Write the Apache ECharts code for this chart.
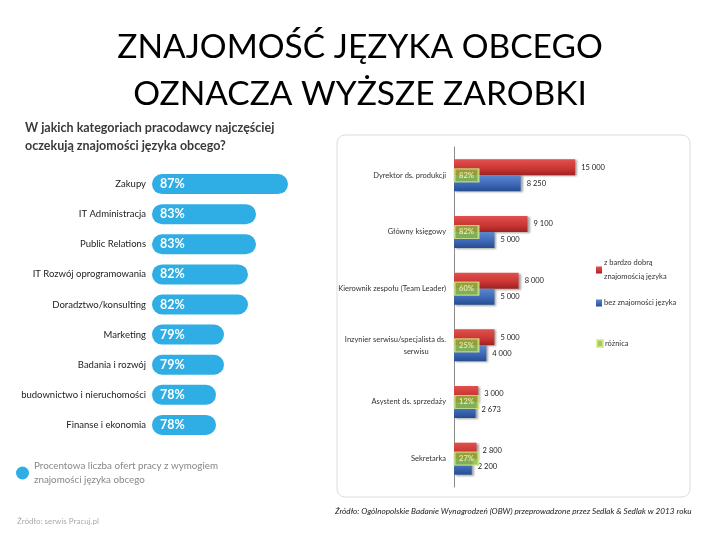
<!DOCTYPE html>
<html>
<head>
<meta charset="utf-8">
<script src="https://cdn.jsdelivr.net/npm/echarts@6/dist/echarts.min.js"></script>
<style>
  html, body { margin: 0; padding: 0; background: #fff; }
  #chart { width: 720px; height: 540px; }
</style>
</head>
<body>
<div id="chart"></div>
<script>
// left panel: share of job offers requiring a foreign language
const categories = ['Zakupy', 'IT Administracja', 'Public Relations', 'IT Rozwój oprogramowania',
  'Doradztwo/konsulting', 'Marketing', 'Badania i rozwój', 'budownictwo i nieruchomości', 'Finanse i ekonomia'];
const shareValues = [87, 83, 83, 82, 82, 79, 79, 78, 78];

// right panel: salaries with / without language skills
const jobs = ['Dyrektor ds. produkcji', 'Główny księgowy', 'Kierownik zespołu (Team Leader)',
  'Inzynier serwisu/specjalista ds.\nserwisu         ', 'Asystent ds. sprzedaży', 'Sekretarka'];
const withLang = [15000, 9100, 8000, 5000, 3000, 2800];
const withoutLang = [8250, 5000, 5000, 4000, 2673, 2200];
const diffPct = [82, 82, 60, 25, 12, 27];

const FONT = 'Lato, "Open Sans", sans-serif';
const fmt = v => String(v).replace(/\B(?=(\d{3})+(?!\d))/g, ' ');

const chart = echarts.init(document.getElementById('chart'));

chart.setOption({
  animation: false,
  textStyle: { fontFamily: FONT },
  title: [
    {
      text: 'ZNAJOMOŚĆ JĘZYKA OBCEGO\nOZNACZA WYŻSZE ZAROBKI',
      left: 'center', top: 24, padding: 0,
      textStyle: { fontSize: 33.5, fontWeight: 'normal', color: '#000', lineHeight: 47, fontFamily: FONT }
    },
    {
      text: 'W jakich kategoriach pracodawcy najczęściej\noczekują znajomości języka obcego?',
      left: 25, top: 119, padding: 0,
      textStyle: { fontSize: 12.5, fontWeight: 'bold', color: '#3a3a3a', lineHeight: 18, fontFamily: FONT }
    },
    {
      text: 'Źródło: serwis Pracuj.pl',
      left: 17, top: 517, padding: 0,
      textStyle: { fontSize: 8, fontWeight: 'normal', color: '#aaa', fontFamily: FONT }
    },
    {
      text: 'Źródło: Ogólnopolskie Badanie Wynagrodzeń (OBW) przeprowadzone przez Sedlak & Sedlak w 2013 roku',
      left: 335, top: 507, padding: 0,
      textStyle: { fontSize: 8.2, fontWeight: 'normal', fontStyle: 'italic', color: '#222', fontFamily: FONT }
    }
  ],
  graphic: [
    {
      type: 'rect',
      shape: { x: 337, y: 135, width: 353, height: 362, r: 8 },
      style: { fill: 'none', stroke: '#dcdcdc', lineWidth: 1 },
      z: -1
    }
  ],
  legend: [
    {
      data: ['Procentowa liczba ofert pracy z wymogiem\nznajomości języka obcego'],
      left: 16, top: 459, padding: 0, icon: 'circle', itemWidth: 13, itemHeight: 13, itemGap: 5,
      textStyle: { fontSize: 9.8, color: '#888', lineHeight: 14 }
    },
    {
      data: ['z bardzo dobrą\nznajomością języka'],
      left: 596, top: 256, padding: 0, icon: 'rect', itemWidth: 6, itemHeight: 7,
      textStyle: { fontSize: 7.5, color: '#333', lineHeight: 14, padding: [0, 0, 0, -3] }
    },
    {
      data: ['bez znajomości języka'],
      left: 596, top: 299, padding: 0, icon: 'rect', itemWidth: 6, itemHeight: 7,
      textStyle: { fontSize: 7.5, color: '#333', padding: [0, 0, 0, -3] }
    },
    {
      data: ['różnica'],
      left: 596, top: 339, padding: 0, icon: 'rect', itemWidth: 6, itemHeight: 7,
      textStyle: { fontSize: 7.5, color: '#333', padding: [0, 0, 0, -3] }
    }
  ],
  grid: [
    { left: 152, width: 160, top: 169, height: 271 },
    { left: 454, width: 202, top: 147, height: 340 }
  ],
  xAxis: [
    { gridIndex: 0, type: 'value', min: 70, max: 90, show: false },
    { gridIndex: 1, type: 'value', min: 0, max: 25000, show: false }
  ],
  yAxis: [
    {
      gridIndex: 0, type: 'category', data: categories, inverse: true,
      axisLine: { show: false }, axisTick: { show: false },
      axisLabel: { margin: 6, fontSize: 9.5, color: '#222' }
    },
    {
      gridIndex: 1, type: 'category', data: jobs, inverse: true,
      axisLine: { lineStyle: { color: '#8a8a8a' } },
      axisTick: { length: 3, lineStyle: { color: '#8a8a8a' } },
      axisLabel: { margin: 8, fontSize: 7.5, color: '#333', lineHeight: 12 }
    }
  ],
  series: [
    {
      name: 'Procentowa liczba ofert pracy z wymogiem\nznajomości języka obcego',
      type: 'bar', xAxisIndex: 0, yAxisIndex: 0,
      data: shareValues, barWidth: 20,
      itemStyle: { color: '#2eaee4', borderRadius: 10 },
      label: {
        show: true, position: 'insideLeft', distance: 8,
        formatter: p => p.value + '%', color: '#fff', fontSize: 12.5, fontWeight: 'bold'
      }
    },
    {
      name: 'z bardzo dobrą\nznajomością języka',
      type: 'bar', xAxisIndex: 1, yAxisIndex: 1,
      data: withLang, barWidth: 16, barGap: '0%',
      itemStyle: {
        color: new echarts.graphic.LinearGradient(0, 0, 0, 1, [
          { offset: 0, color: '#e2514f' }, { offset: 0.6, color: '#c83533' }, { offset: 1, color: '#9e2220' }
        ]),
        shadowColor: 'rgba(0,0,0,0.35)', shadowBlur: 2, shadowOffsetX: 2, shadowOffsetY: 1
      },
      label: { show: true, position: 'right', distance: 6, formatter: p => fmt(p.value), fontSize: 7.5, color: '#222' }
    },
    {
      name: 'bez znajomości języka',
      type: 'bar', xAxisIndex: 1, yAxisIndex: 1,
      data: withoutLang, barWidth: 16,
      itemStyle: {
        color: new echarts.graphic.LinearGradient(0, 0, 0, 1, [
          { offset: 0, color: '#5c87d0' }, { offset: 0.6, color: '#3b66b4' }, { offset: 1, color: '#264d90' }
        ]),
        shadowColor: 'rgba(0,0,0,0.35)', shadowBlur: 2, shadowOffsetX: 2, shadowOffsetY: 1
      },
      label: { show: true, position: 'right', distance: 6, formatter: p => fmt(p.value), fontSize: 7.5, color: '#222' }
    },
    {
      name: 'różnica',
      type: 'scatter', xAxisIndex: 1, yAxisIndex: 1, z: 5,
      symbol: 'rect', symbolSize: [24, 13],
      data: jobs.map(j => [1550, j]),
      itemStyle: { color: '#8fbc3c', borderColor: '#d6ea8c', borderWidth: 1.5 },
      label: {
        show: true, position: 'inside', formatter: p => diffPct[p.dataIndex] + '%',
        fontSize: 7.5, color: '#f4f7c8', fontWeight: 'bold'
      }
    }
  ]
});
</script>
</body>
</html>
